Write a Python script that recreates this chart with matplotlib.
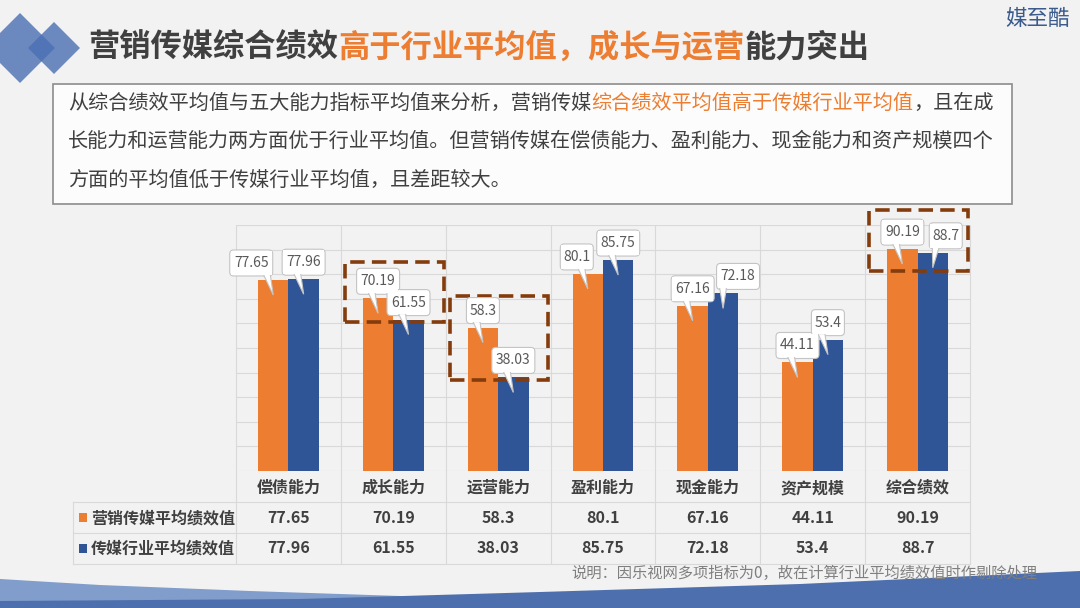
import matplotlib
matplotlib.use("Agg")
import numpy as np
import matplotlib.pyplot as plt
import matplotlib.transforms as mtransforms
from matplotlib.patches import Polygon, Rectangle, FancyBboxPatch

plt.rcParams["font.family"] = ["Noto Sans CJK SC", "DejaVu Sans"]

# data
categories = ["偿债能力", "成长能力", "运营能力", "盈利能力", "现金能力", "资产规模", "综合绩效"]
marketing = [77.65, 70.19, 58.3, 80.1, 67.16, 44.11, 90.19]
industry = [77.96, 61.55, 38.03, 85.75, 72.18, 53.4, 88.7]
series_names = ["营销传媒平均绩效值", "传媒行业平均绩效值"]

title_runs = [("营销传媒综合绩效", "dark"), ("高于行业平均值，成长与运营", "orange"), ("能力突出", "dark")]
body_lines = [
    [("从综合绩效平均值与五大能力指标平均值来分析，营销传媒", "dark"),
     ("综合绩效平均值高于传媒行业平均值", "orange"), ("，且在成", "dark")],
    [("长能力和运营能力两方面优于行业平均值。但营销传媒在偿债能力、盈利能力、现金能力和资产规模四个", "dark")],
    [("方面的平均值低于传媒行业平均值，且差距较大。", "dark")],
]
note = "说明：因乐视网多项指标为0，故在计算行业平均绩效值时作剔除处理"
brand = "媒至酷"

# highlighted categories: (index, low value, high value)
highlights = [(1, 60.6, 85.0), (2, 37.0, 71.1), (6, 81.3, 106.1)]

# label nudges in pixels (keeps neighbouring callouts apart)
orange_shift = [-22, 0, 0, -11, 0, 0, 0]
blue_shift = [0, 0, 0, 0, 15, 0, 13]

ORANGE = "#ED7D31"
BLUE = "#2F5597"
DARK = "#404040"
GRID = "#D9D9D9"
colors = {"dark": DARK, "orange": ORANGE}

fig = plt.figure(figsize=(10.8, 6.08), dpi=100, facecolor="#F2F2F2")


def pixel_canvas(z):
    a = fig.add_axes([0, 0, 1, 1])
    a.set_xlim(0, 1080)
    a.set_ylim(608, 0)
    a.axis("off")
    a.set_zorder(z)
    return a


bg = pixel_canvas(0)

# bottom wave
bg.add_patch(Polygon([(0, 579), (100, 585), (250, 591), (400, 596), (540, 599), (700, 602),
                      (700, 608), (0, 608)], fc="#809DCC", ec="none", zorder=1))
bg.add_patch(Polygon([(0, 601), (300, 599), (540, 592), (800, 584), (1080, 571),
                      (1080, 608), (0, 608)], fc="#4E6FAD", ec="none", zorder=2))

# logo diamonds
for cx, cy, r in [(20, 48, 35), (54, 48, 26)]:
    bg.add_patch(Polygon([(cx - r, cy), (cx, cy - r), (cx + r, cy), (cx, cy + r)],
                         fc="#4A6FB3", alpha=0.8, ec="none", zorder=2))

renderer = fig.canvas.get_renderer()


def draw_runs(x, y, runs, **kw):
    for s, c in runs:
        t = bg.text(x, y, s, color=colors[c], ha="left", va="center", **kw)
        x += t.get_window_extent(renderer=renderer).width


draw_runs(88, 48, title_runs, fontsize=22.5, fontweight="bold")
bg.text(1005, 19, brand, fontsize=15.5, color="#3B5B8C", ha="left", va="center")

# text box
bg.add_patch(Rectangle((53, 84), 959, 120, fc="#FCFCFC", ec="#8C8C8C", lw=1.2, zorder=2))
for k, runs in enumerate(body_lines):
    draw_runs(68, 103 + 38.5 * k, runs, fontsize=14.5, zorder=3)

# chart axes
ax = fig.add_axes([236 / 1080, 1 - 471 / 608, 734 / 1080, 246 / 608])
ax.set_zorder(1)
ax.set_facecolor("none")
ax.set_xlim(-0.5, 6.5)
ax.set_ylim(0, 100)
for sp in ax.spines.values():
    sp.set_visible(False)
ax.set_yticks(np.arange(0, 101, 10))
ax.set_xticks([])
ax.tick_params(left=False, labelleft=False)
ax.yaxis.grid(True, color=GRID, lw=0.8)
ax.set_axisbelow(True)

x = np.arange(len(categories))
bw = 0.29
ax.bar(x - bw / 2, marketing, bw, color=ORANGE, zorder=3)
ax.bar(x + bw / 2, industry, bw, color=BLUE, zorder=3)

# data table under the chart
tr = mtransforms.blended_transform_factory(ax.transData, ax.transAxes)
ax.vlines(np.arange(-0.5, 7, 1), -0.378, 1, transform=tr, color=GRID, lw=0.8, clip_on=False)
for py in [502, 533, 564]:
    bg.plot([73, 970], [py, py], color=GRID, lw=0.8, zorder=2)
bg.plot([73, 73], [502, 564], color=GRID, lw=0.8, zorder=2)

for i, cat in enumerate(categories):
    ax.text(i, -0.069, cat, transform=tr, ha="center", va="center", fontsize=11.5,
            fontweight="bold", color=DARK)
    ax.text(i, -0.191, f"{marketing[i]:g}", transform=tr, ha="center", va="center",
            fontsize=11.5, fontweight="bold", color=DARK)
    ax.text(i, -0.315, f"{industry[i]:g}", transform=tr, ha="center", va="center",
            fontsize=11.5, fontweight="bold", color=DARK)

for name, col, py in [(series_names[0], ORANGE, 518), (series_names[1], BLUE, 548.5)]:
    bg.add_patch(Rectangle((79, py - 5), 8, 9, fc=col, ec="none", zorder=3))
    bg.text(91, py, name, ha="left", va="center", fontsize=11.5, fontweight="bold", color=DARK)

# callouts sit above the bars on their own pixel canvas
ov = pixel_canvas(2)


def callout(xb, v, shift):
    txt = f"{v:g}"
    bx, by = ov.transData.inverted().transform(ax.transData.transform((xb, v)))
    w, h = 10 * len(txt) - 7, 26
    cx = bx + shift
    left = cx - w / 2
    bottom = by - 4
    top = bottom - h
    b1 = max(bx - 10, left + 3)
    b2 = b1 + 7
    ov.add_patch(FancyBboxPatch((left, top), w, h, boxstyle="round,pad=0,rounding_size=4",
                                fc="white", ec="#C4C4C4", lw=0.8, zorder=5))
    ov.add_patch(Polygon([(b1, bottom - 2), (bx, by + 15), (b2, bottom - 2)],
                         fc="white", ec="#C4C4C4", lw=0.8, zorder=6))
    ov.add_patch(Rectangle((left + 1.2, top + 1.2), w - 2.4, h - 2.4, fc="white", ec="none", zorder=7))
    ov.text(cx, top + h / 2, txt, ha="center", va="center", fontsize=10, color="#595959", zorder=8)


for i in range(len(categories)):
    callout(x[i] - bw / 2, marketing[i], orange_shift[i])
    callout(x[i] + bw / 2, industry[i], blue_shift[i])

# dashed highlight boxes
for i, lo, hi in highlights:
    ax.add_patch(Rectangle((i - 0.46, lo), 0.94, hi - lo, fill=False, ec="#843C0C", lw=2.6,
                           ls=(0, (4, 2)), zorder=10, clip_on=False))

# note
bg.text(571, 573, note, ha="left", va="center", fontsize=11, color="#7F7F7F", zorder=4)

fig.savefig("out.png", dpi=100, facecolor=fig.get_facecolor())
